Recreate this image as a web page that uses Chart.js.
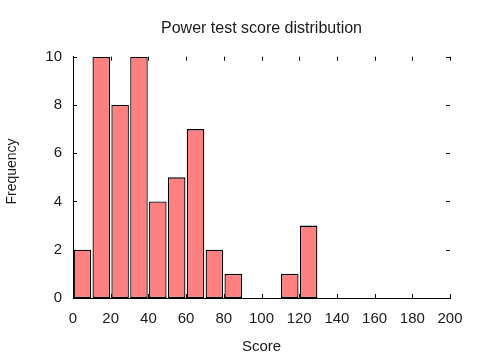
<!DOCTYPE html>
<html>
<head>
<meta charset="utf-8">
<script src="https://cdn.jsdelivr.net/npm/chart.js@4.4.1/dist/chart.umd.min.js"></script>
<style>
html,body{margin:0;padding:0;background:#fff;}
#wrap{width:480px;height:360px;}
</style>
</head>
<body>
<div id="wrap"><canvas id="c" width="480" height="360"></canvas></div>
<script>
// Data
const binCenters = [5, 15, 25, 35, 45, 55, 65, 75, 85, 95, 105, 115, 125];
const frequencies = [2, 10, 8, 10, 4, 5, 7, 2, 1, 0, 0, 1, 3];
const chartTitle = 'Power test score distribution';
const xTitle = 'Score';
const yTitle = 'Frequency';
const xRange = [0, 200];
const xStep = 20;
const yRange = [0, 10];
const yStep = 2;

const FONT = "'Liberation Sans', Arial, sans-serif";
const TXT = '#1a1a1a';

const innerTicks = {
  id: 'innerTicks',
  afterDatasetsDraw(chart) {
    const ctx = chart.ctx;
    const a = chart.chartArea;
    const xs = chart.scales.x, ys = chart.scales.y;
    const L = 4;
    ctx.save();
    ctx.strokeStyle = '#000';
    ctx.lineWidth = 1;
    ctx.beginPath();
    xs.ticks.forEach(t => {
      const px = Math.round(xs.getPixelForValue(t.value)) + 0.5;
      ctx.moveTo(px, a.bottom); ctx.lineTo(px, a.bottom - L);
      ctx.moveTo(px, a.top); ctx.lineTo(px, a.top + L);
    });
    ys.ticks.forEach(t => {
      const py = Math.round(ys.getPixelForValue(t.value)) + 0.5;
      ctx.moveTo(a.left, py); ctx.lineTo(a.left + L, py);
      ctx.moveTo(a.right, py); ctx.lineTo(a.right - L, py);
    });
    ctx.stroke();
    ctx.restore();
  }
};

new Chart(document.getElementById('c'), {
  type: 'bar',
  data: {
    datasets: [{
      data: binCenters.map((x, i) => ({x: x, y: frequencies[i]})),
      backgroundColor: '#ff8080',
      borderColor: '#000000',
      borderWidth: 1.3,
      borderSkipped: false,
      barPercentage: 0.93,
      categoryPercentage: 1.0
    }]
  },
  options: {
    responsive: false,
    animation: false,
    devicePixelRatio: 1,
    layout: { padding: { left: 0, right: 30, top: 0, bottom: 0 } },
    plugins: {
      legend: { display: false },
      tooltip: { enabled: false },
      title: {
        display: true,
        fullSize: false,
        text: chartTitle,
        color: TXT,
        font: { family: FONT, size: 16, weight: 'normal' },
        padding: { top: 19, bottom: 18.5 }
      }
    },
    scales: {
      x: {
        type: 'linear',
        min: xRange[0], max: xRange[1],
        offset: false,
        grid: { display: false, drawTicks: false },
        border: { display: true, color: '#000', width: 1 },
        ticks: { stepSize: xStep, color: TXT, padding: 12, maxRotation: 0,
                 font: { family: FONT, size: 15 } },
        title: { display: true, text: xTitle, color: TXT,
                 font: { family: FONT, size: 15 }, padding: { top: 0, bottom: 4 } },
        afterFit(s) { s.height = 62; }
      },
      y: {
        min: yRange[0], max: yRange[1],
        grid: { display: false, drawTicks: false },
        border: { display: true, color: '#000', width: 1 },
        ticks: { stepSize: yStep, color: TXT, padding: 11,
                 font: { family: FONT, size: 15 } },
        title: { display: true, text: '   ' + yTitle, color: TXT,
                 font: { family: FONT, size: 14 }, padding: { top: 4, bottom: 0 } },
        afterFit(s) { s.width = 73; }
      }
    }
  },
  plugins: [innerTicks]
});
</script>
</body>
</html>
